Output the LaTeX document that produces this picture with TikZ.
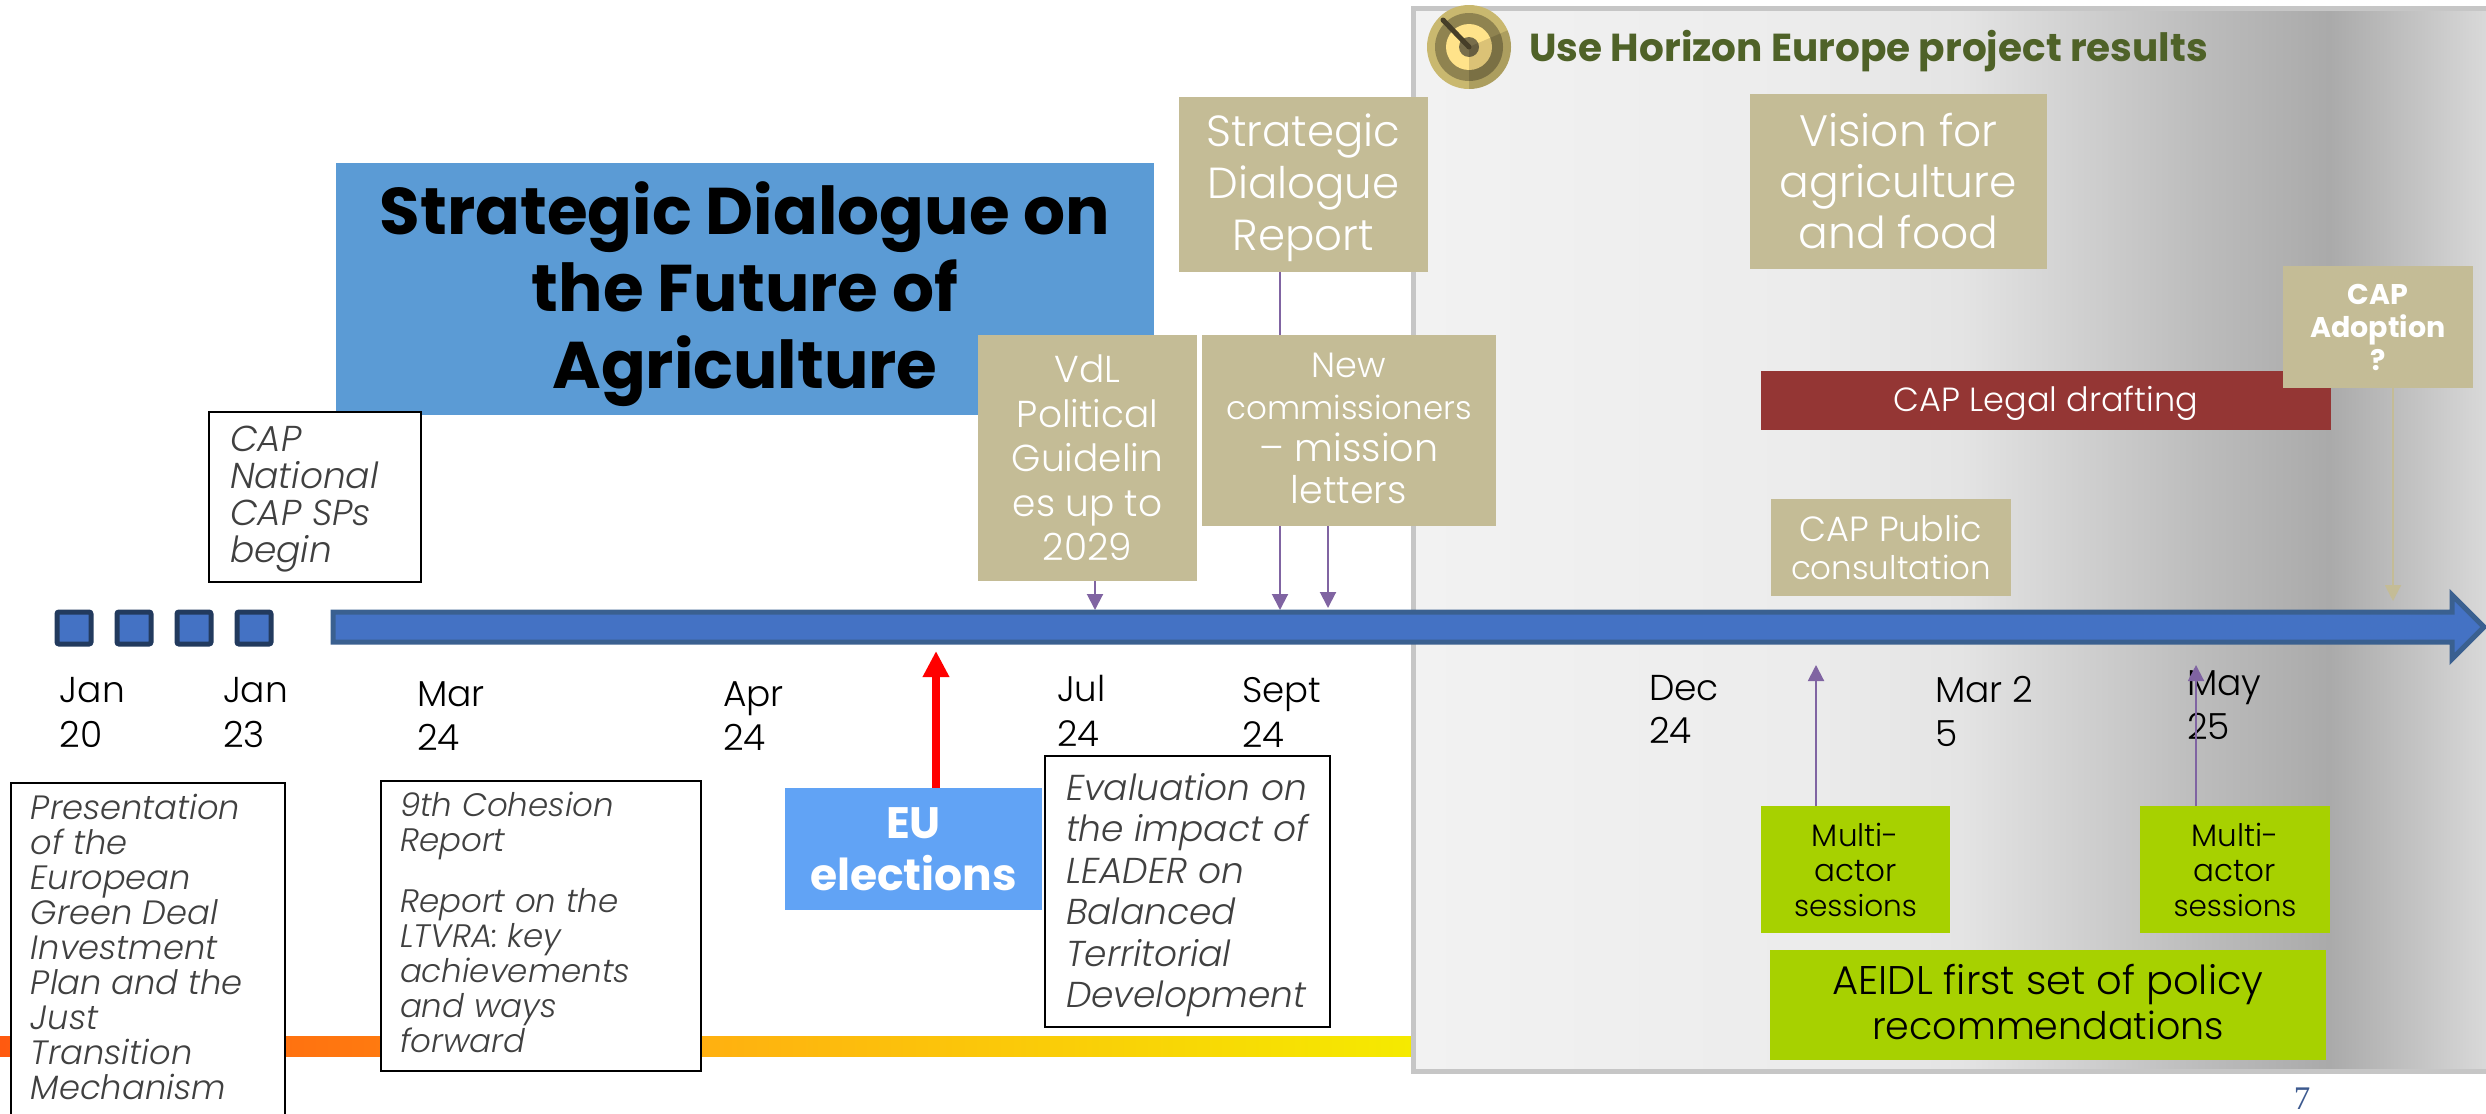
\documentclass[tikz,border=0pt]{standalone}
\usepackage{fontspec}
\setmainfont{Poppins Light}[ItalicFont={Poppins Light Italic},BoldFont={Poppins SemiBold}]
\newfontfamily\boldf{Poppins Bold}
\newfontfamily\numf{Liberation Serif}
\usetikzlibrary{arrows.meta,shapes.geometric}
\definecolor{khaki}{HTML}{C4BC96}
\definecolor{barblue}{HTML}{4472C4}
\definecolor{baredge}{HTML}{3A6090}
\definecolor{sqedge}{HTML}{223A5E}
\definecolor{purp}{HTML}{8064A2}
\definecolor{lime}{HTML}{A7D100}
\definecolor{txtgray}{HTML}{404040}
\definecolor{titleblue}{HTML}{5B9BD5}
\definecolor{eublue}{HTML}{61A3F5}
\definecolor{wine}{HTML}{943634}
\definecolor{olivetxt}{HTML}{4F6228}
\definecolor{pagenum}{HTML}{3D5A8F}
\definecolor{panelline}{HTML}{C6C6C6}
\definecolor{pa}{HTML}{F2F2F2}
\definecolor{pb}{HTML}{ECECEC}
\definecolor{pc}{HTML}{E4E4E4}
\definecolor{pd}{HTML}{D4D4D4}
\definecolor{pe}{HTML}{BCBCBC}
\definecolor{pf}{HTML}{AAAAAA}
\definecolor{pg}{HTML}{C4C4C4}
\definecolor{ph}{HTML}{D9D9D9}
\definecolor{oa}{HTML}{FF5A10}
\definecolor{ob}{HTML}{FF7A10}
\definecolor{oc}{HTML}{FFB010}
\definecolor{od}{HTML}{F5EA00}
\definecolor{ta}{HTML}{C9B86F}
\definecolor{tb}{HTML}{8F8350}
\definecolor{tc}{HTML}{FFE38A}
\definecolor{td}{HTML}{786E4B}
\definecolor{te}{HTML}{463E28}
\pgfdeclarehorizontalshading{panelshade}{100bp}{color(0bp)=(pa); color(25bp)=(pa); color(43bp)=(pb); color(50.5bp)=(pc); color(55bp)=(pd); color(61.7bp)=(pe); color(67.7bp)=(pf); color(71.9bp)=(pg); color(75bp)=(ph); color(100bp)=(ph)}
\newcommand{\px}[2]{\fontsize{\dimexpr#1pt/2\relax}{\dimexpr#2pt/2\relax}\selectfont}
% shift a centred text block down or up by about #1 picture pixels
\newcommand{\dn}[1]{\rule{0pt}{\dimexpr.76em+#1pt\relax}}
\newcommand{\upb}[1]{\rule[-#1pt]{0pt}{0pt}}
\tikzset{
  x=0.5pt,y=-0.5pt,
  boxed/.style={rectangle,inner sep=0,outer sep=0,anchor=north west},
  kbox/.style={boxed,fill=khaki,text=white,align=center},
  gbox/.style={boxed,fill=lime,text=black,align=center},
  note/.style={anchor=north west,inner sep=0,outer sep=0,align=left,text=txtgray},
  frame/.style={draw=black,line width=1.2pt,fill=white},
  date/.style={anchor=north west,inner sep=0,outer sep=0,align=left,text=black},
  sq/.style={rectangle,rounded corners=1pt,inner sep=0,outer sep=0,anchor=north west,minimum width=17pt,minimum height=16pt,fill=barblue,draw=sqedge,line width=2.5pt},
  parr/.style={draw=purp,line width=1pt,-{Triangle[length=8pt,width=8pt,fill=purp]}},
}
\begin{document}
\begin{tikzpicture}
\useasboundingbox (0,0) rectangle (2486,1114);
% orange timeline
\shade[left color=oa,right color=ob] (0,1036) rectangle (381,1056);
\shade[left color=ob,right color=oc] (381,1036) rectangle (701,1056);
\shade[left color=oc,right color=od] (701,1036) rectangle (1411,1056);
% panel
\shade[shading=panelshade] (1413,8) rectangle (2486,1071);
\draw[draw=panelline,line width=2.5pt] (2490,8) -- (1413,8) -- (1413,1071) -- (2490,1071);
% target icon
\fill[ta] (1469,47) circle (42);
\fill[tb] (1469,47) circle (34);
\fill[tc] (1469,47) circle (23);
\fill[td] (1469,47) circle (10);
\begin{scope}
\clip (1469,47) circle (42);
\fill[black,opacity=.14] (1469,47) -- (1520,25) -- (1520,100) -- (1469,95) -- cycle;
\end{scope}
\draw[line width=2.5pt,te,line cap=round] (1469,47) -- (1443,20);
\node[anchor=base west,inner sep=0,text=olivetxt,font={\boldf\px{39}{46}}] (horizon) at (1529,61.5) {Use Horizon Europe project results};
% connector ends
\coordinate (a1) at (1095,610);
\coordinate (a2) at (1280,610);
\coordinate (a3) at (1328,608);
\coordinate (a4) at (1816,665);
\coordinate (a5) at (2196,665);
\coordinate (a6) at (2393,601);
\coordinate (tipR) at (936,651);
% title
\node[boxed,fill=titleblue,minimum width=409pt,minimum height=126pt,align=center,text=black,font={\boldf\px{66}{77}}] (title) at (336,163) {\dn{6}Strategic Dialogue on\\the Future of\\Agriculture};
% Report
\node[kbox,minimum width=124.5pt,minimum height=87.5pt,font=\px{43.5}{52}] (report) at (1179,97) {\dn{3}Strategic\\Dialogue\\Report};
\node[kbox,minimum width=148.5pt,minimum height=87.5pt,font=\px{44}{51}] (vision) at (1750,94) {Vision for\\agriculture\\and food};
\draw[parr] (report.south -| a2) -- (a2);
% VdL, New
\node[kbox,minimum width=109.5pt,minimum height=123pt,font=\px{37.5}{44.5}] (vdl) at (978,335) {VdL\\Political\\Guidelin\\es up to\\2029};
\node[kbox,minimum width=147pt,minimum height=95.5pt,font=\px{38}{42}] (newc) at (1202,335) {\px{35}{42}New\\\px{32.5}{42}commissioners\\– mission\\letters\upb{2.4}};
\draw[parr] (vdl.south -| a1) -- (a1);
\draw[parr] (newc.south -| a3) -- (a3);
% CAP National
\node[boxed,frame,minimum width=106pt,minimum height=85pt] (capn) at (209,412) {};
\node[note,font={\itshape\px{36}{37}}] (capnt) at (230,426) {CAP\\National\\CAP SPs\\begin};
% squares
\node[sq] (s1) at (57,612) {};
\node[sq] (s2) at (117,612) {};
\node[sq] (s3) at (177,612) {};
\node[sq] (s4) at (237,612) {};
% main arrow
\draw[fill=barblue,draw=baredge,line width=2.5pt,miter limit=5] (333,612) -- (2452,612) -- (2452,595) -- (2484,627) -- (2452,659) -- (2452,642) -- (333,642) -- cycle;
% dates
\node[date,font=\px{36}{45}] (d1) at (60,677) {Jan\\20};
\node[date,font=\px{36}{45}] (d2) at (223,677) {Jan\\23};
\node[date,font=\px{36}{44}] (d3) at (417,682) {Mar\\24};
\node[date,font=\px{36}{44}] (d4) at (723,682) {Apr\\24};
\node[date,font=\px{35.5}{45.6}] (d5) at (1057,675) {Jul\\24};
\node[date,font=\px{35.5}{45}] (d6) at (1242,677) {Sept\\24};
\node[date,font=\px{36}{43}] (d7) at (1649,675) {Dec\\24};
\node[date,font=\px{36}{44.5}] (d8) at (1935,676) {Mar 2\\5};
\node[date,font=\px{36}{44}] (d9) at (2187,671) {May\\25};
% note boxes
\node[boxed,frame,minimum width=137pt,minimum height=180pt] (pres) at (11,783) {};
\node[note,font={\itshape\px{33.7}{35}}] (prest) at (31,794) {Presentation\\of the\\European\\Green Deal\\Investment\\Plan and the\\Just\\Transition\\Mechanism};
\node[boxed,frame,minimum width=160pt,minimum height=145pt] (coh) at (381,781) {};
\node[note,font={\itshape\px{32.5}{35}}] (coht) at (400,792) {9th Cohesion\\Report\\[13pt]Report on the\\LTVRA: key\\achievements\\and ways\\forward};
\node[boxed,frame,minimum width=142.5pt,minimum height=135.5pt] (evalb) at (1045,756) {};
\node[note,font={\itshape\px{36}{41.5}}] (evalt) at (1066,773) {Evaluation on\\the impact of\\LEADER on\\Balanced\\Territorial\\Development};
% EU
\draw[red,line width=4.25pt,-{Triangle[length=13pt,width=12.5pt,fill=red]}] (936,788) -- (tipR);
\node[boxed,fill=eublue,text=white,align=center,minimum width=128.5pt,minimum height=61pt,font={\boldf\px{44}{52}}] (eu) at (785,788) {EU\\elections};
% CAP right
\node[boxed,fill=wine,text=white,minimum width=285pt,minimum height=29.5pt,font=\px{33.5}{38}] (legal) at (1761,371) {\dn{3}CAP Legal drafting};
\draw[draw=khaki,line width=1pt,-{Triangle[length=8pt,width=8pt,fill=khaki]}] (2393,388) -- (a6);
\node[kbox,minimum width=95pt,minimum height=61pt,font={\boldf\px{28.5}{33}}] (adopt) at (2283,266) {CAP\\Adoption\\?};
\node[kbox,minimum width=120pt,minimum height=48.5pt,font=\px{35}{38}] (pub) at (1771,499) {CAP Public\\\px{32.5}{38}consultation};
% multi actor
\node[gbox,minimum width=94.5pt,minimum height=63.5pt,font=\px{31}{35}] (m1) at (1761,806) {Multi-\\actor\\\px{29.5}{35}sessions};
\node[gbox,minimum width=95pt,minimum height=63.5pt,font=\px{31}{35}] (m2) at (2140,806) {Multi-\\actor\\\px{29.5}{35}sessions};
\draw[parr] (m1.north -| a4) -- (a4);
\draw[parr] (m2.north -| a5) -- (a5);
\node[gbox,minimum width=278pt,minimum height=55pt,font=\px{40}{45}] (aeidl) at (1770,950) {AEIDL first set of policy\\\px{38}{45}recommendations\upb{3.2}};
\node[anchor=center,inner sep=0,text=pagenum,font={\numf\px{33}{33}}] (pgn) at (2302,1099) {7};
\end{tikzpicture}
\end{document}
